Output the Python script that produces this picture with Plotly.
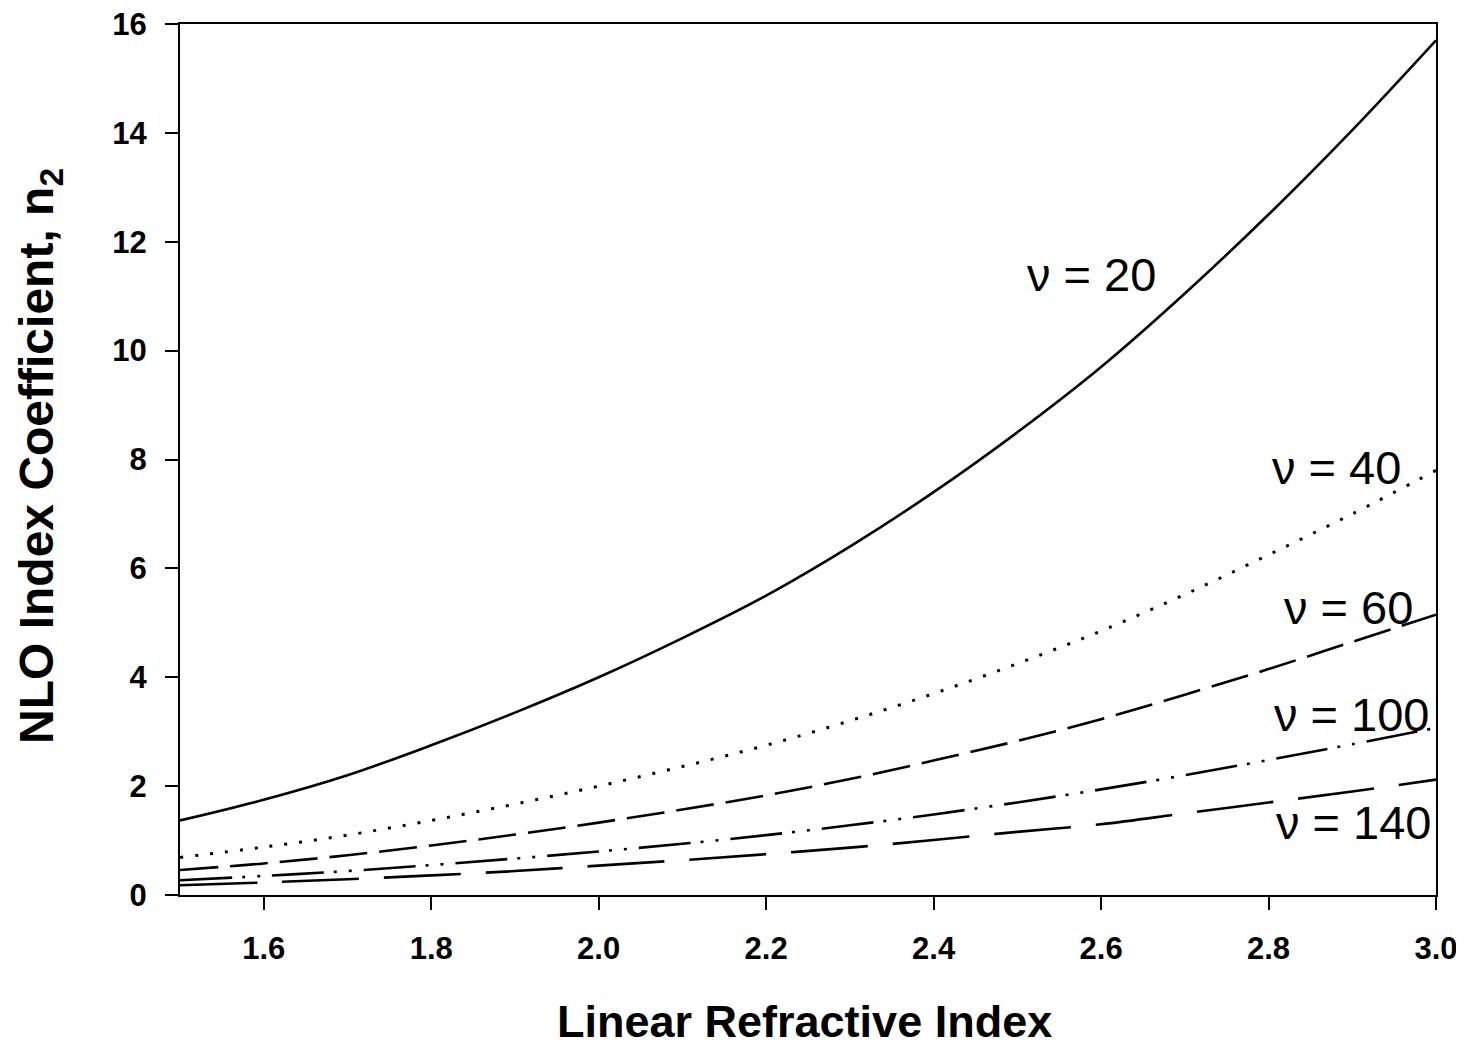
import plotly.graph_objects as go

# Linear refractive index (x)
refr_index = [1.5, 1.6, 1.7, 1.8, 1.9, 2.0, 2.1, 2.2, 2.3, 2.4, 2.5, 2.6, 2.7, 2.8, 2.9, 3.0]

# NLO index coefficient n2 for each Abbe number
n2_v20 = [1.37, 1.75, 2.2, 2.75, 3.35, 4.0, 4.72, 5.5, 6.4, 7.4, 8.5, 9.7, 11.05, 12.5, 14.05, 15.7]
n2_v40 = [0.69, 0.88, 1.1, 1.37, 1.67, 2.0, 2.36, 2.75, 3.2, 3.7, 4.25, 4.85, 5.52, 6.25, 7.0, 7.8]
n2_v60 = [0.46, 0.58, 0.73, 0.91, 1.11, 1.33, 1.57, 1.83, 2.13, 2.47, 2.83, 3.23, 3.68, 4.15, 4.65, 5.15]
n2_v100 = [0.27, 0.35, 0.44, 0.55, 0.67, 0.8, 0.94, 1.1, 1.28, 1.48, 1.7, 1.94, 2.2, 2.48, 2.77, 3.07]
n2_v140 = [0.18, 0.23, 0.29, 0.36, 0.44, 0.54, 0.64, 0.75, 0.87, 1.01, 1.16, 1.3, 1.5, 1.7, 1.9, 2.12]

series_labels = ["\u03bd = 20", "\u03bd = 40", "\u03bd = 60", "\u03bd = 100", "\u03bd = 140"]
label_x = [2.588, 2.881, 2.896, 2.899, 2.901]
label_y = [11.4, 7.85, 5.29, 3.31, 1.34]

x_ticks = [1.6, 1.8, 2.0, 2.2, 2.4, 2.6, 2.8, 3.0]
y_ticks = [0, 2, 4, 6, 8, 10, 12, 14, 16]

series = [n2_v20, n2_v40, n2_v60, n2_v100, n2_v140]
dashes = ["solid", "3px,12px", "38px,12px", "52px,10px,3px,12px,3px,12px", "77px,25px"]
widths = [2.6, 3, 2.6, 2.6, 2.6]

FONT = "Liberation Sans, Arial, sans-serif"

fig = go.Figure()
for ys, d, w, name in zip(series, dashes, widths, series_labels):
    fig.add_trace(go.Scatter(
        x=refr_index, y=ys, mode="lines", name=name,
        line=dict(color="black", width=w, dash=d, shape="spline"),
        showlegend=False,
    ))

for t, lx, ly in zip(series_labels, label_x, label_y):
    fig.add_annotation(x=lx, y=ly, text=t, showarrow=False,
                       font=dict(family=FONT, size=47, color="black"),
                       xanchor="center", yanchor="middle")

fig.add_annotation(xref="paper", yref="paper", x=0.4976, y=-0.1458,
                   text="<b>Linear Refractive Index</b>", showarrow=False,
                   font=dict(family=FONT, size=45, color="black"),
                   xanchor="center", yanchor="middle")
fig.add_annotation(xref="paper", yref="paper", x=-0.1115, y=0.504,
                   text="<b>NLO Index Coefficient, n<sub>2</sub></b>", showarrow=False,
                   textangle=-90,
                   font=dict(family=FONT, size=48, color="black"),
                   xanchor="center", yanchor="middle")

fig.update_xaxes(range=[1.5, 3.0], tickvals=x_ticks, ticktext=[f"{v:.1f}" for v in x_ticks],
                 showline=True, linecolor="black", linewidth=2, mirror=True,
                 ticks="outside", ticklen=13, tickwidth=2, tickcolor="black",
                 ticklabelstandoff=12, ticklabeloverflow="allow",
                 tickfont=dict(family=FONT, size=31, color="black", weight="bold"),
                 showgrid=False, zeroline=False)
fig.update_yaxes(range=[0, 16], tickvals=y_ticks,
                 showline=True, linecolor="black", linewidth=2, mirror=True,
                 ticks="outside", ticklen=13, tickwidth=2, tickcolor="black",
                 ticklabelstandoff=12, ticklabeloverflow="allow",
                 tickfont=dict(family=FONT, size=31, color="black", weight="bold"),
                 showgrid=False, zeroline=False)

fig.update_layout(width=1464, height=1050,
                  margin=dict(l=172, r=36, t=16, b=163, autoexpand=False),
                  paper_bgcolor="white", plot_bgcolor="white")

fig.write_html("out.html")
